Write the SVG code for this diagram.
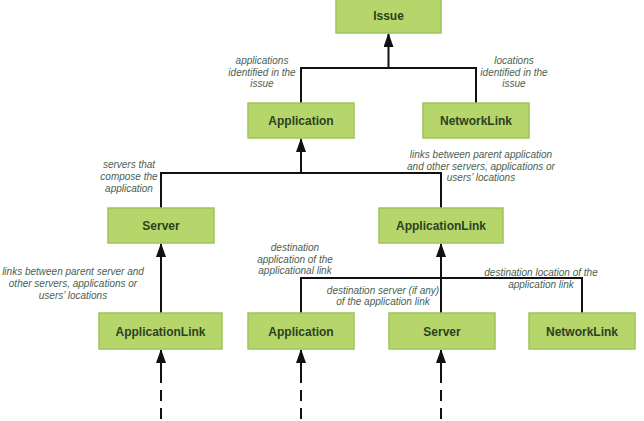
<svg xmlns="http://www.w3.org/2000/svg" width="644" height="421" viewBox="0 0 644 421">
<style>
.box{fill:#b6d66c;stroke:#9fc45a;stroke-width:1.5}
.bt{font-family:"Liberation Sans",Arial,sans-serif;font-weight:bold;font-size:12px;fill:#2c421d;text-anchor:middle}
.lb{font-family:"Liberation Sans",Arial,sans-serif;font-style:italic;font-size:10px;fill:#4a6152;text-anchor:middle}
.ln{fill:none;stroke:#111;stroke-width:2}
.ar{marker-end:url(#arr)}
.ds{stroke-dasharray:11 7}
</style>
<defs>
<marker id="arr" viewBox="0 0 14 10" refX="13" refY="5" markerWidth="14" markerHeight="10" markerUnits="userSpaceOnUse" orient="auto">
<path d="M0,0 L14,5 L0,10 z" fill="#111"/>
</marker>
</defs>
<rect width="644" height="421" fill="#fff"/>
<g id="connectors">
<path class="ln" d="M301,103 V68 H476 V103"/>
<path class="ln ar" d="M388.5,68 V34"/>
<path class="ln" d="M161,208 V173 H441 V208"/>
<path class="ln ar" d="M301,173 V139"/>
<path class="ln ar" d="M161,313 V244"/>
<path class="ln ar" d="M441,313 V244"/>
<path class="ln" d="M301,313 V278 H582 V313"/>
<path class="ln ar" d="M161,383 V350"/>
<path class="ln ar" d="M301,383 V350"/>
<path class="ln ar" d="M441,383 V350"/>
<path class="ln ds" d="M161,390 V421"/>
<path class="ln ds" d="M301,390 V421"/>
<path class="ln ds" d="M441,390 V421"/>
</g>
<g id="labels">
<text class="lb" x="262" y="64">applications</text>
<text class="lb" x="262" y="75.5">identified in the</text>
<text class="lb" x="262" y="87">issue</text>
<text class="lb" x="514" y="64">locations</text>
<text class="lb" x="514" y="75.5">identified in the</text>
<text class="lb" x="514" y="87">issue</text>
<text class="lb" x="129" y="168">servers that</text>
<text class="lb" x="129" y="180">compose the</text>
<text class="lb" x="129" y="192">application</text>
<text class="lb" x="481" y="158">links between parent application</text>
<text class="lb" x="481" y="169.5">and other servers, applications or</text>
<text class="lb" x="481" y="181">users’ locations</text>
<text class="lb" x="295" y="251">destination</text>
<text class="lb" x="295" y="262.5">application of the</text>
<text class="lb" x="295" y="274">applicational link</text>
<text class="lb" x="383" y="293.5">destination server (if any)</text>
<text class="lb" x="383" y="305">of the application link</text>
<text class="lb" x="541" y="276">destination location of the</text>
<text class="lb" x="541" y="287.5">application link</text>
<text class="lb" x="73" y="275">links between parent server and</text>
<text class="lb" x="73" y="286.5">other servers, applications or</text>
<text class="lb" x="73" y="298.5">users’ locations</text>
</g>
<g id="issue"><rect class="box" x="336" y="-2" width="105" height="35"/><text class="bt" x="388.5" y="20">Issue</text></g>
<g id="application"><rect class="box" x="248" y="103" width="106" height="35"/><text class="bt" x="301" y="124.5">Application</text></g>
<g id="networklink"><rect class="box" x="423" y="103" width="106" height="35"/><text class="bt" x="476" y="124.5">NetworkLink</text></g>
<g id="server"><rect class="box" x="108" y="208" width="106" height="35"/><text class="bt" x="161" y="230">Server</text></g>
<g id="applicationlink"><rect class="box" x="379" y="208" width="124" height="35"/><text class="bt" x="441" y="230">ApplicationLink</text></g>
<g id="applicationlink-2"><rect class="box" x="99" y="313" width="123" height="36"/><text class="bt" x="160.5" y="335.5">ApplicationLink</text></g>
<g id="application-2"><rect class="box" x="248" y="313" width="106" height="36"/><text class="bt" x="301" y="335.5">Application</text></g>
<g id="server-2"><rect class="box" x="389" y="313" width="106" height="36"/><text class="bt" x="442" y="335.5">Server</text></g>
<g id="networklink-2"><rect class="box" x="529" y="313" width="106" height="36"/><text class="bt" x="582" y="335.5">NetworkLink</text></g>
</svg>
